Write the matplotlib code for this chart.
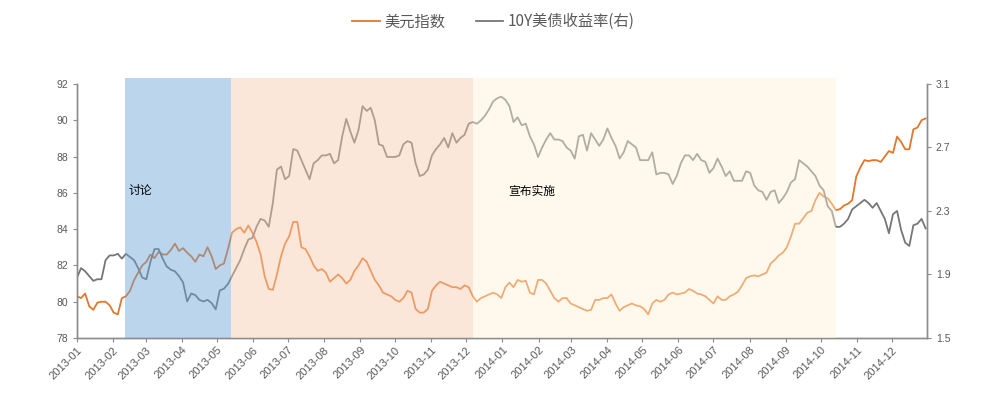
import matplotlib
matplotlib.use("Agg")
import matplotlib.pyplot as plt
import matplotlib.dates as mdates
import pandas as pd

plt.rcParams["font.family"] = ["Liberation Sans", "Noto Sans CJK SC", "DejaVu Sans"]

# half-week samples (every 3.5 days from 2013-01-01)
sample_start = "2013-01-01"
usd_index = [
    80.3, 80.2, 80.45, 79.75, 79.55, 79.95, 80.0, 80.0, 79.8, 79.4,
    79.3, 80.2, 80.3, 80.6, 81.2, 81.6, 82.0, 82.2, 82.6, 82.4,
    82.75, 82.6, 82.6, 82.85, 83.2, 82.8, 82.95, 82.7, 82.5, 82.2,
    82.6, 82.5, 83.0, 82.5, 81.8, 82.0, 82.1, 82.9, 83.8, 84.0,
    84.1, 83.8, 84.2, 83.8, 83.3, 82.6, 81.4, 80.7, 80.65, 81.5,
    82.5, 83.2, 83.6, 84.4, 84.4, 83.0, 82.9, 82.5, 82.0, 81.7,
    81.8, 81.6, 81.1, 81.3, 81.5, 81.3, 81.0, 81.2, 81.7, 82.0,
    82.4, 82.2, 81.7, 81.2, 80.9, 80.5, 80.4, 80.3, 80.1, 80.0,
    80.2, 80.6, 80.5, 79.6, 79.4, 79.4, 79.6, 80.6, 80.9, 81.1,
    81.0, 80.9, 80.8, 80.8, 80.7, 80.9, 80.8, 80.3, 80.0, 80.2,
    80.3, 80.4, 80.5, 80.4, 80.2, 80.8, 81.05, 80.8, 81.2, 81.1,
    81.15, 80.5, 80.4, 81.2, 81.2, 81.0, 80.6, 80.2, 80.0, 80.2,
    80.2, 79.9, 79.8, 79.7, 79.6, 79.5, 79.55, 80.1, 80.1, 80.2,
    80.2, 80.4, 79.9, 79.5, 79.7, 79.8, 79.9, 79.8, 79.75, 79.6,
    79.3, 79.9, 80.1, 80.0, 80.1, 80.4, 80.5, 80.4, 80.45, 80.5,
    80.7, 80.6, 80.45, 80.4, 80.3, 80.1, 79.9, 80.3, 80.1, 80.1,
    80.3, 80.4, 80.55, 80.9, 81.3, 81.4, 81.45, 81.4, 81.5, 81.6,
    82.1, 82.3, 82.55, 82.7, 83.0, 83.6, 84.3, 84.3, 84.6, 84.9,
    85.0, 85.6, 86.0, 85.8, 85.7, 85.4, 85.05, 85.1, 85.3, 85.4,
    85.6, 86.9, 87.4, 87.8, 87.75, 87.8, 87.8, 87.7, 88.0, 88.3,
    88.2, 89.1, 88.8, 88.4, 88.4, 89.5, 89.6, 90.0, 90.1,
]
ust_10y = [
    1.88, 1.94, 1.92, 1.89, 1.86, 1.87, 1.87, 1.99, 2.02, 2.02,
    2.03, 2.0, 2.03, 2.01, 1.99, 1.94, 1.88, 1.87, 1.98, 2.06,
    2.06, 2.0, 1.95, 1.93, 1.92, 1.89, 1.85, 1.73, 1.78, 1.77,
    1.74, 1.73, 1.74, 1.72, 1.68, 1.8, 1.81, 1.84, 1.89, 1.94,
    1.99, 2.06, 2.12, 2.13, 2.2, 2.25, 2.24, 2.2, 2.35, 2.56,
    2.58, 2.5, 2.52, 2.69, 2.68, 2.62, 2.56, 2.5, 2.6, 2.62,
    2.65, 2.65, 2.66, 2.6, 2.62, 2.77, 2.88, 2.8, 2.73, 2.81,
    2.96, 2.93, 2.95, 2.87, 2.72, 2.71, 2.64, 2.64, 2.64, 2.65,
    2.72, 2.74, 2.73, 2.6, 2.52, 2.53, 2.56, 2.65, 2.69, 2.72,
    2.76, 2.7, 2.79, 2.73, 2.76, 2.78, 2.85, 2.86, 2.85, 2.87,
    2.9, 2.94, 2.99, 3.01, 3.02, 3.0, 2.96, 2.86, 2.89, 2.84,
    2.85, 2.77, 2.72, 2.64, 2.70, 2.75, 2.79, 2.75, 2.75, 2.74,
    2.7, 2.68, 2.63, 2.77, 2.78, 2.68, 2.79, 2.75, 2.71, 2.75,
    2.82, 2.76, 2.71, 2.63, 2.67, 2.74, 2.72, 2.7, 2.62, 2.62,
    2.62, 2.67, 2.53, 2.54, 2.54, 2.53, 2.47, 2.52, 2.6, 2.65,
    2.65, 2.62, 2.66, 2.62, 2.61, 2.54, 2.57, 2.63, 2.58, 2.52,
    2.55, 2.49, 2.49, 2.49, 2.55, 2.54, 2.46, 2.43, 2.42, 2.37,
    2.42, 2.43, 2.35, 2.38, 2.42, 2.48, 2.5, 2.62, 2.6, 2.58,
    2.55, 2.52, 2.46, 2.43, 2.33, 2.3, 2.2, 2.2, 2.22, 2.25,
    2.31, 2.33, 2.35, 2.37, 2.35, 2.32, 2.35, 2.3, 2.25, 2.16,
    2.28, 2.3, 2.18, 2.1, 2.08, 2.21, 2.22, 2.25, 2.19,
]

# policy phases
phase_starts = ["2013-02-11", "2013-05-13", "2013-12-07"]
phase_ends = ["2013-05-13", "2013-12-07", "2014-10-14"]
phase_labels = ["讨论", "", "宣布实施"]
phase_colors = ["#6AA4D5", "#F8CAAD", "#FDF2D5"]

dates = pd.date_range(sample_start, periods=len(usd_index), freq="84h")

fig = plt.figure(figsize=(9.87, 3.96), dpi=100)
ax = fig.add_axes([0.078, 0.1465, 0.861, 0.6415])
ax2 = ax.twinx()

ln1, = ax.plot(dates, usd_index, color="#E3762B", lw=1.3)
ln2, = ax2.plot(dates, ust_10y, color="#767676", lw=1.3)

# shading sits on top of the lines, as in the source chart
for s, e, c in zip(phase_starts, phase_ends, phase_colors):
    ax2.axvspan(pd.Timestamp(s), pd.Timestamp(e), ymin=0, ymax=1.024,
                color=c, alpha=0.45, lw=0, zorder=3, clip_on=False)

label_cn = ["Noto Sans CJK SC", "DejaVu Sans"]
ax2.text(pd.Timestamp("2013-02-14"), 2.43, phase_labels[0], fontsize=8.5,
         family=label_cn, zorder=5, va="center")
ax2.text(pd.Timestamp("2014-01-06"), 2.42, phase_labels[2], fontsize=8.5,
         family=label_cn, zorder=5, va="center")

ax.set_xlim(pd.Timestamp("2013-01-01"), pd.Timestamp("2014-12-31"))
ax.set_ylim(78, 92)
ax.set_yticks(range(78, 93, 2))
ax2.set_ylim(1.5, 3.1)
ax2.set_yticks([1.5, 1.9, 2.3, 2.7, 3.1])

ax.xaxis.set_major_locator(mdates.MonthLocator())
ax.xaxis.set_major_formatter(mdates.DateFormatter("%Y-%m"))

spine_c = "#8C8C8C"
for a in (ax, ax2):
    a.spines["top"].set_visible(False)
    for side in ("left", "right", "bottom"):
        a.spines[side].set_color(spine_c)
        a.spines[side].set_linewidth(1.0)
    a.tick_params(colors=spine_c, labelcolor="#595959", labelsize=7.5,
                  length=3, width=0.8)
ax.tick_params(axis="x", pad=2, labelsize=8)
for lbl in ax.get_xticklabels():
    lbl.set_rotation(45)
    lbl.set_ha("right")
    lbl.set_rotation_mode("anchor")

fig.legend([ln1, ln2], ["美元指数", "10Y美债收益率(右)"],
           loc="center", bbox_to_anchor=(0.5, 0.945), ncol=2, frameon=False,
           prop={"family": ["Noto Sans CJK SC", "DejaVu Sans"], "size": 11},
           labelcolor="#595959", handlelength=1.8, handletextpad=0.3,
           columnspacing=2.0)

fig.savefig("out.png", dpi=100)
